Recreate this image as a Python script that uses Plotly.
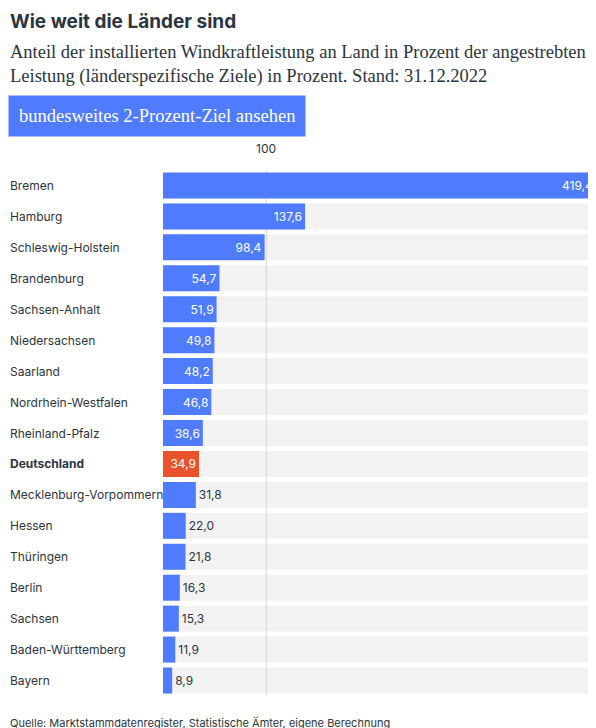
import plotly.graph_objects as go

laender = ["Bremen","Hamburg","Schleswig-Holstein","Brandenburg","Sachsen-Anhalt","Niedersachsen",
           "Saarland","Nordrhein-Westfalen","Rheinland-Pfalz","Deutschland","Mecklenburg-Vorpommern",
           "Hessen","Thüringen","Berlin","Sachsen","Baden-Württemberg","Bayern"]
werte = [419.4,137.6,98.4,54.7,51.9,49.8,48.2,46.8,38.6,34.9,31.8,22.0,21.8,16.3,15.3,11.9,8.9]
highlight = "Deutschland"
xmax = max(werte)
BLUE = "#4f7cff"; RED = "#e9522b"; DARK = "#2b3440"
L = 155

idx = list(range(len(laender)))
colors = [RED if l == highlight else BLUE for l in laender]
labels = [f"{v:.1f}".replace(".", ",") for v in werte]
inside = [v >= 34 for v in werte]

fig = go.Figure()
fig.add_trace(go.Bar(
    x=werte, y=idx, orientation="h", marker=dict(color=colors, line=dict(width=0)), width=0.84,
    text=labels, textposition=["inside" if i else "outside" for i in inside],
    insidetextanchor="end",
    textfont=dict(family="Inter, sans-serif", size=12, color=["white" if i else DARK for i in inside]),
    outsidetextfont=dict(family="Inter, sans-serif", size=12, color=DARK),
    insidetextfont=dict(family="Inter, sans-serif", size=12, color="white"),
    cliponaxis=False, hoverinfo="skip"))

shapes = []
for i in idx:
    shapes.append(dict(type="rect", xref="x", yref="y", x0=0, x1=xmax, y0=i-0.42, y1=i+0.42,
                       fillcolor="#f2f2f2", line=dict(width=0), layer="below"))
shapes.append(dict(type="line", xref="x", yref="y", x0=100, x1=100, y0=-0.5, y1=len(idx)-0.5,
                   line=dict(color="#d6d6d6", width=1), layer="below"))

ann = []
for i, l in zip(idx, laender):
    ann.append(dict(xref="paper", yref="y", x=0, y=i, xshift=-L, xanchor="left", showarrow=False,
                    text=f"<b>{l}</b>" if l == highlight else l,
                    font=dict(family="Inter, sans-serif", size=12, color=DARK)))
ann.append(dict(xref="x", yref="paper", x=100, y=1, yshift=12, yanchor="bottom", showarrow=False,
                text="100", font=dict(family="Inter, sans-serif", size=12, color=DARK)))
ann += [
    dict(xref="paper", yref="paper", x=0, xshift=-L, y=1, yshift=162, xanchor="left", yanchor="top",
         showarrow=False, text="<b>Wie weit die Länder sind</b>",
         font=dict(family="Inter, sans-serif", size=19, color=DARK)),
    dict(xref="paper", yref="paper", x=0, xshift=-L, y=1, yshift=130, xanchor="left", yanchor="top",
         showarrow=False, align="left",
         text="Anteil der installierten Windkraftleistung an Land in Prozent der angestrebten<br>Leistung (länderspezifische Ziele) in Prozent. Stand: 31.12.2022",
         font=dict(family="Liberation Serif, serif", size=18.5, color=DARK)),
    dict(xref="paper", yref="paper", x=0, xshift=-L, y=1, yshift=75, xanchor="left", yanchor="top",
         showarrow=False, text="bundesweites 2-Prozent-Ziel ansehen", bgcolor=BLUE, borderpad=10,
         font=dict(family="Liberation Serif, serif", size=18.5, color="white")),
    dict(xref="paper", yref="paper", x=0, xshift=-L, y=0, yshift=-18, xanchor="left", yanchor="top",
         showarrow=False, text="Quelle: Marktstammdatenregister, Statistische Ämter, eigene Berechnung",
         font=dict(family="Inter, sans-serif", size=11, color=DARK)),
]

fig.update_layout(
    width=596, height=728, margin=dict(l=L, r=8, t=162, b=40),
    paper_bgcolor="white", plot_bgcolor="white", showlegend=False,
    xaxis=dict(range=[0, xmax], visible=False, fixedrange=True),
    yaxis=dict(range=[len(idx)-0.5, -0.5], visible=False, fixedrange=True),
    shapes=shapes, annotations=ann, uniformtext=dict(minsize=8),
)
fig.write_html("out.html")
